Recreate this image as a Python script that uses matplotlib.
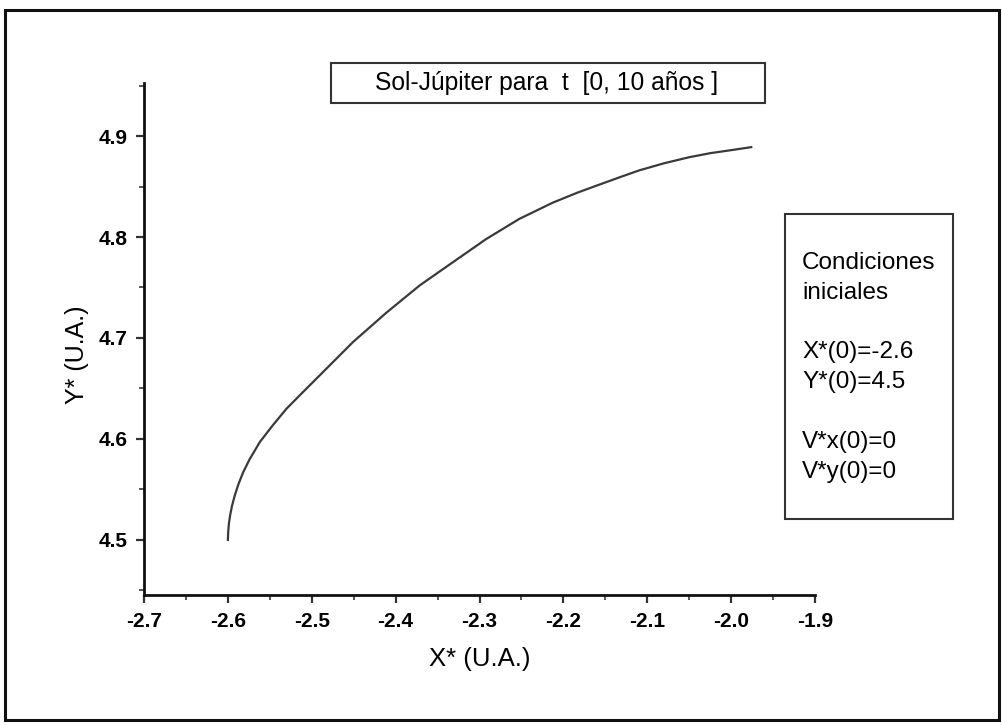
import matplotlib
matplotlib.use('Agg')
import matplotlib.pyplot as plt
from matplotlib.patches import Rectangle
from matplotlib.ticker import MultipleLocator, FormatStrFormatter

plt.rcParams['font.family'] = ['Liberation Sans', 'DejaVu Sans']
plt.rcParams['axes.unicode_minus'] = False

# orbita Sol-Jupiter
x_star = [-2.6000, -2.5996, -2.5988, -2.5972, -2.5950, -2.5918, -2.5875, -2.5818,
          -2.5740, -2.5619, -2.5470, -2.5301, -2.5110, -2.4905, -2.4508,
          -2.4111, -2.3714, -2.3318, -2.2920, -2.2524, -2.2300, -2.2127,
          -2.1830, -2.1600, -2.1300, -2.1095, -2.0800, -2.0500, -2.0250,
          -2.0000, -1.9760]
y_star = [4.500, 4.508, 4.516, 4.525, 4.534, 4.544, 4.555, 4.567,
          4.580, 4.597, 4.613, 4.630, 4.646, 4.663, 4.696,
          4.725, 4.752, 4.775, 4.798, 4.818, 4.827, 4.834,
          4.844, 4.851, 4.860, 4.866, 4.873, 4.879, 4.883,
          4.886, 4.889]

titulo = 'Sol-Júpiter para  t  [0, 10 años ]'
condiciones = ['Condiciones', 'iniciales', '', 'X*(0)=-2.6', 'Y*(0)=4.5',
               '', 'V*x(0)=0', 'V*y(0)=0']

W, H = 1003, 725


def fx(px):
    return px / W


def fy(py):
    return 1 - py / H


fig = plt.figure(figsize=(W / 100, H / 100), dpi=100)
fig.patch.set_facecolor('white')

ax = fig.add_axes([fx(144), fy(595), fx(815) - fx(144), fy(83) - fy(595)])
ax.plot(x_star, y_star, color='#3a3a3a', lw=1.6, solid_joinstyle='round')

ax.set_xlim(-2.7, -1.9)
ax.set_ylim(4.4455, 4.9525)
ax.xaxis.set_major_locator(MultipleLocator(0.1))
ax.xaxis.set_minor_locator(MultipleLocator(0.05))
ax.yaxis.set_major_locator(MultipleLocator(0.1))
ax.yaxis.set_minor_locator(MultipleLocator(0.05))
ax.xaxis.set_major_formatter(FormatStrFormatter('%.1f'))
ax.yaxis.set_major_formatter(FormatStrFormatter('%.1f'))
ax.set_yticks([4.5, 4.6, 4.7, 4.8, 4.9])

for s in ['top', 'right']:
    ax.spines[s].set_visible(False)
for s in ['left', 'bottom']:
    ax.spines[s].set_linewidth(2)
    ax.spines[s].set_color('#111111')

ax.tick_params(which='major', direction='out', length=6, width=1.6, color='#333333',
               labelsize=15, pad=6)
ax.tick_params(which='minor', direction='out', length=3.5, width=1.4, color='#555555')
for lab in ax.get_xticklabels() + ax.get_yticklabels():
    lab.set_fontweight('bold')

fig.text(fx(480), fy(659), 'X* (U.A.)', fontsize=18.5, ha='center', va='center')
fig.text(fx(77), fy(355), 'Y* (U.A.)', fontsize=18, ha='center', va='center', rotation=90)

# recuadro del titulo
fig.patches.append(Rectangle((fx(331), fy(103)), fx(765) - fx(331), fy(63) - fy(103),
                             transform=fig.transFigure, fill=False, edgecolor='#333333', lw=1.5))
fig.text(fx(547), fy(83), titulo, fontsize=17.7, ha='center', va='center')

# recuadro de condiciones iniciales
fig.patches.append(Rectangle((fx(785), fy(519)), fx(953) - fx(785), fy(214) - fy(519),
                             transform=fig.transFigure, fill=False, edgecolor='#333333', lw=1.5))
fig.text(fx(802), fy(252), '\n'.join(condiciones), fontsize=17.5, ha='left', va='top',
         linespacing=1.46)

# marco exterior
fig.patches.append(Rectangle((fx(5), fy(720)), fx(999) - fx(5), fy(10) - fy(720),
                             transform=fig.transFigure, fill=False, edgecolor='#111111', lw=2.2))

fig.savefig('out.png', dpi=100)
